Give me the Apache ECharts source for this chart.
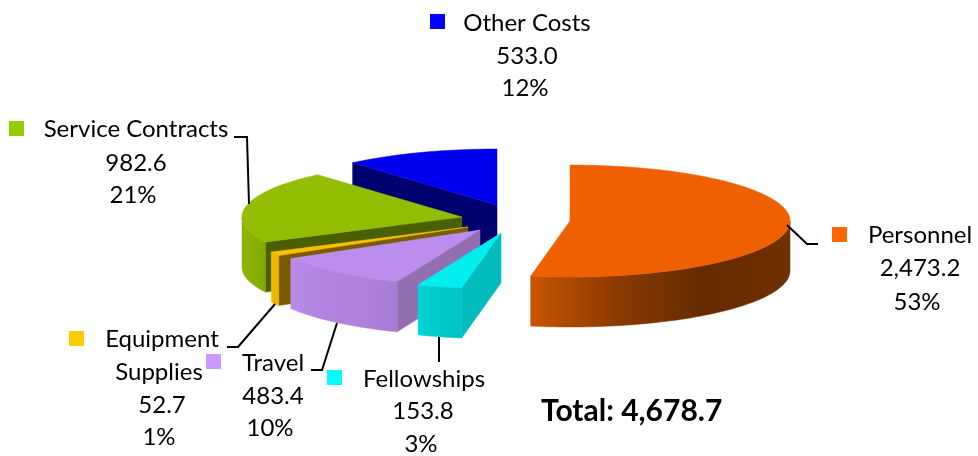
<!DOCTYPE html>
<html>
<head>
<meta charset="utf-8">
<title>Costs</title>
<script src="https://cdn.jsdelivr.net/npm/echarts@6/dist/echarts.min.js"></script>
<style>
  html, body { margin: 0; padding: 0; background: #fff; }
  #chart { width: 978px; height: 456px; }
</style>
</head>
<body>
<div id="chart"></div>
<script>
// data, clockwise from 12 o'clock
const names = ['Personnel', 'Fellowships', 'Travel', 'Equipment\nSupplies', 'Service Contracts', 'Other Costs']
const values = [2473.2, 153.8, 483.4, 52.7, 982.6, 533.0]
const percents = ['53%', '3%', '10%', '1%', '21%', '12%']
const totalLabel = 'Total: 4,678.7'

// pie shape
const RX = 220
const RY = 56
const DEPTH = 50
const pieCentre = [497, 222]
// how far each slice is pulled out of the pie
const explode = [[73, -1], [4, 11], [-17, 8], [-29, 5], [-35, -5], [0, -17]]

const keyColors = ['#ff6600', '#00ffff', '#cc99ff', '#ffcc00', '#99cc00', '#0000ff']
const topColors = ['#ef6000', '#00eeee', '#bb8eee', '#ffc000', '#93bd00', '#0000ee']
const cutColors = ['#652b00', '#00bcbc', '#9270b0', '#7a5c00', '#4a6000', '#00006e']
const wallStops = [
  ['#c95500', '#8a3b00', '#652b00', '#703000'],
  ['#00d6d6', '#00cccc', '#00c8c8', '#00c4c4'],
  ['#b88bea', '#b083e0', '#ae82dc', '#a87cd6'],
  ['#ffc000', '#f0b400', '#f0b400', '#f0b400'],
  ['#8ab200', '#8ab200', '#86ad00', '#82a800'],
  ['#00007a', '#00007a', '#00007a', '#00007a']
]

// label placement: key square, centre of each text line, leader line
const labelLayout = [
  { key: [832, 227], lines: [[920, 235], [920, 268], [917, 302]], leader: [[787, 225], [807, 244], [818, 244]] },
  { key: [327, 370], lines: [[424, 379], [423, 411], [421, 444]], leader: [[439, 337], [439, 362]] },
  { key: [206, 354], lines: [[273, 363], [273, 396], [270, 428]], leader: [[311, 370], [322, 370], [337, 323]] },
  { key: [69, 331], lines: [[162, 339], [159, 372], [162, 405], [159, 437]], leader: [[227, 347], [238, 347], [275, 304]] },
  { key: [9, 121], lines: [[136, 129], [136, 163], [133, 195]], leader: [[234, 137], [247, 137], [249, 204]] },
  { key: [430, 14], lines: [[527, 23], [527, 56], [525, 88]], leader: null }
]

const FONT = 'Lato'
const total = values.reduce((a, b) => a + b, 0)

// slice start/end angles in degrees
const angles = []
let acc = 0
values.forEach(v => {
  const start = acc
  acc += v / total * 360
  angles.push([start, acc])
})

const rimPoint = (c, deg) => {
  const a = deg * Math.PI / 180
  return [c[0] + RX * Math.sin(a), c[1] - RY * Math.cos(a)]
}

const arcPoints = (c, from, to) => {
  const pts = []
  const n = Math.max(2, Math.ceil((to - from) / 1.5))
  for (let i = 0; i <= n; i++) pts.push(rimPoint(c, from + (to - from) * i / n))
  return pts
}

const drop = pts => pts.map(p => [p[0], p[1] + DEPTH]).reverse()

const solid = (points, fill) => ({
  type: 'polygon',
  shape: { points },
  style: { fill, stroke: fill, lineWidth: 0.5 }
})

const renderSlice = (params, api) => {
  const i = api.value(0)
  const [start, end] = angles[i]
  const c = [pieCentre[0] + explode[i][0], pieCentre[1] + explode[i][1]]
  const children = []

  // cut face, only the one turned to the viewer
  if (Math.sin(start * Math.PI / 180) < -0.001) {
    const edge = [c, rimPoint(c, start)]
    children.push(solid(edge.concat(drop(edge)), cutColors[i]))
  }

  // outer wall on the front half
  const from = Math.max(start, 90)
  const to = Math.min(end, 270)
  if (to > from) {
    const arc = arcPoints(c, from, to)
    const stops = wallStops[i]
    // gradient runs left to right across the wall
    const fill = new echarts.graphic.LinearGradient(0, 0, 1, 0, [
      { offset: 0, color: stops[0] },
      { offset: 0.33, color: stops[1] },
      { offset: 0.66, color: stops[2] },
      { offset: 1, color: stops[3] }
    ])
    children.push(solid(arc.concat(drop(arc)), fill))
  }

  children.push(solid([c].concat(arcPoints(c, start, end)), topColors[i]))
  return { type: 'group', children }
}

const fmtValue = v => v.toLocaleString('en-US', { minimumFractionDigits: 1, maximumFractionDigits: 1 })

const renderLabel = (params, api) => {
  const i = api.value(0)
  const layout = labelLayout[i]
  const texts = names[i].split('\n').concat([fmtValue(values[i]), percents[i]])
  const children = [{
    type: 'rect',
    shape: { x: layout.key[0], y: layout.key[1], width: 15, height: 15 },
    style: { fill: keyColors[i] }
  }]
  texts.forEach((t, n) => {
    children.push({
      type: 'text',
      style: {
        text: t,
        x: layout.lines[n][0],
        y: layout.lines[n][1],
        align: 'center',
        verticalAlign: 'middle',
        fill: '#000',
        font: `24px ${FONT}`
      }
    })
  })
  if (layout.leader) {
    children.push({
      type: 'polyline',
      shape: { points: layout.leader },
      style: { fill: 'none', stroke: '#000', lineWidth: 2 }
    })
  }
  return { type: 'group', children }
}

const chart = echarts.init(document.getElementById('chart'), null, { renderer: 'canvas' })
// back slices first so the front ones cover them
const drawOrder = names.map((_, i) => i).reverse()

chart.setOption({
  animation: false,
  title: {
    text: totalLabel,
    left: 541,
    top: 396,
    padding: 0,
    textStyle: { fontFamily: FONT, fontWeight: 'bold', fontSize: 30, color: '#000' }
  },
  series: [
    { type: 'custom', coordinateSystem: 'none', silent: true, data: drawOrder, renderItem: renderSlice, z: 1 },
    { type: 'custom', coordinateSystem: 'none', silent: true, data: drawOrder, renderItem: renderLabel, z: 2 }
  ]
})

window.addEventListener('resize', () => chart.resize())
</script>
</body>
</html>
